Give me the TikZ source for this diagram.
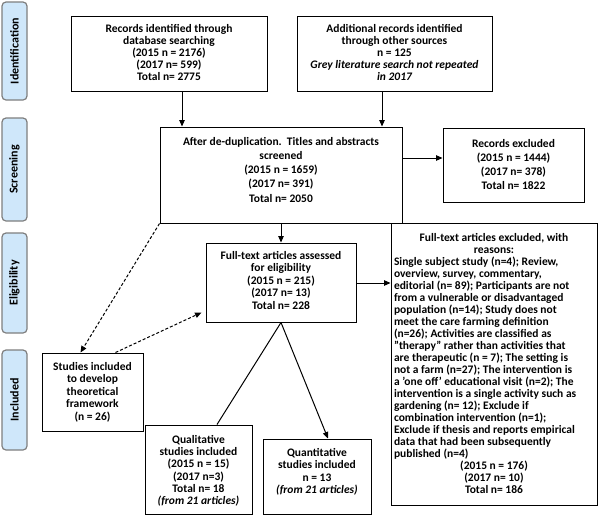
\documentclass[tikz,border=0pt]{standalone}
\usepackage{fontspec}
\setmainfont{Carlito}
\usetikzlibrary{arrows.meta,calc}
\definecolor{labblue}{HTML}{CFE7FA}
\definecolor{labborder}{HTML}{7F7F7F}
\newcommand{\bxt}[5]{\parbox[c][#2pt][t]{\dimexpr#1pt-6pt\relax}{\fontsize{11.5}{#4}\selectfont\bfseries\centering\vspace*{\dimexpr#3pt-1pt\relax}#5}}
\tikzset{
  box/.style={draw, line width=1pt, inner xsep=3pt, inner ysep=0pt},
  lab/.style={draw=labborder, fill=labblue, rounded corners=4pt, line width=1.2pt,
    minimum width=25pt, inner sep=0pt, font=\fontsize{12}{14}\selectfont\bfseries},
  arr/.style={line width=1pt, -{Triangle[length=6.5pt,width=5.5pt]}},
  dsh/.style={arr, dash pattern=on 3pt off 2pt},
  ln/.style={line width=1pt}
}
\begin{document}
\begin{tikzpicture}[x=1pt,y=-1pt]
\useasboundingbox (0,0) rectangle (600,515);
\fill[white] (0,0) rectangle (600,515);
% side labels
\node[lab, minimum height=98pt] (lid) at (14.5,51) {\rotatebox{90}{Identification}};
\node[lab, minimum height=103pt] (lsc) at (14.5,169.5) {\rotatebox{90}{Screening}};
\node[lab, minimum height=100pt] (lel) at (14.5,283) {\rotatebox{90}{Eligibility}};
\node[lab, minimum height=100pt] (lin) at (14.5,400) {\rotatebox{90}{Included}};
% boxes
\node[box] (rec) at (169,53.5) {\bxt{196}{75}{9}{12.2}{Records identified through\\database searching\\(2015 n = 2176)\\(2017 n= 599)\\Total n= 2775}};
\node[box] (add) at (394.5,53.5) {\bxt{195}{75}{9}{12.2}{Additional records identified\\through other sources\\n = 125\\{\itshape Grey literature search not repeated\\in 2017}}};
\node[box] (scr) at (281,175) {\bxt{242}{96}{11}{14.3}{After de-duplication.\ \ Titles and abstracts\\screened\\(2015 n = 1659)\\(2017 n= 391)\\Total n= 2050}};
\node[box] (exc) at (513.5,165) {\bxt{141}{74}{12}{14.3}{Records excluded\\(2015 n = 1444)\\(2017 n= 378)\\Total n= 1822}};
\node[box] (ass) at (281,282.5) {\bxt{150}{79}{9}{12.5}{Full-text articles assessed\\for eligibility\\(2015 n = 215)\\(2017 n= 13)\\Total n= 228}};
\node[box] (ftx) at (494,364) {\bxt{206}{282}{11}{12}{Full-text articles excluded, with\\reasons:\par
\raggedright Single subject study (n=4); Review,\\overview, survey, commentary,\\editorial (n= 89); Participants are not\\from a vulnerable or disadvantaged\\population (n=14); Study does not\\meet the care farming definition\\(n=26); Activities are classified as\\"therapy" rather than activities that\\are therapeutic (n = 7); The setting is\\not a farm (n=27); The intervention is\\a 'one off' educational visit (n=2); The\\intervention is a single activity such as\\gardening (n= 12); Exclude if\\combination intervention (n=1);\\Exclude if thesis and reports empirical\\data that had been subsequently\\published (n=4)\par
\centering (2015 n = 176)\\(2017 n= 10)\\Total n= 186}};
\node[box] (stu) at (92.5,392) {\bxt{101}{78}{10}{12.5}{Studies included\\to develop\\theoretical\\framework\\(n = 26)}};
\node[box] (qual) at (198.5,469.5) {\bxt{107}{89}{11.5}{12.2}{Qualitative\\studies included\\(2015 n = 15)\\(2017 n=3)\\Total n= 18\\{\itshape (from 21 articles)}}};
\node[box] (quan) at (317,476.5) {\bxt{108}{75}{10}{12.5}{Quantitative\\studies included\\n = 13\\{\itshape (from 21 articles)}}};
% connectors
\coordinate (a1) at ($(rec.south)+(13,0)$);
\draw[arr] (a1) -- (a1 |- scr.north);
\coordinate (a2) at ($(add.south)+(-12.5,0)$);
\draw[arr] (a2) -- (a2 |- scr.north);
\coordinate (e1) at ($(scr.east)+(0,-17)$);
\draw[arr] (e1) -- (e1 -| exc.west);
\draw[arr] (scr.south -| ass.north) -- (ass.north);
\coordinate (f1) at ($(ass.east)+(0,0.5)$);
\draw[arr] (f1) -- (f1 -| ftx.west);
\coordinate (d1) at ($(stu.north)+(-12,0)$);
\draw[dsh] (scr.south west) -- (d1);
\coordinate (d2) at ($(stu.north)+(23,0)$);
\coordinate (d3) at ($(ass.west)+(-4,30)$);
\draw[dsh] (d2) -- (d3);
\draw[ln] (ass.south) -- ($(qual.north)+(18.5,0)$);
\draw[arr] (ass.south) -- ($(quan.north)+(11,0)$);
\end{tikzpicture}
\end{document}
